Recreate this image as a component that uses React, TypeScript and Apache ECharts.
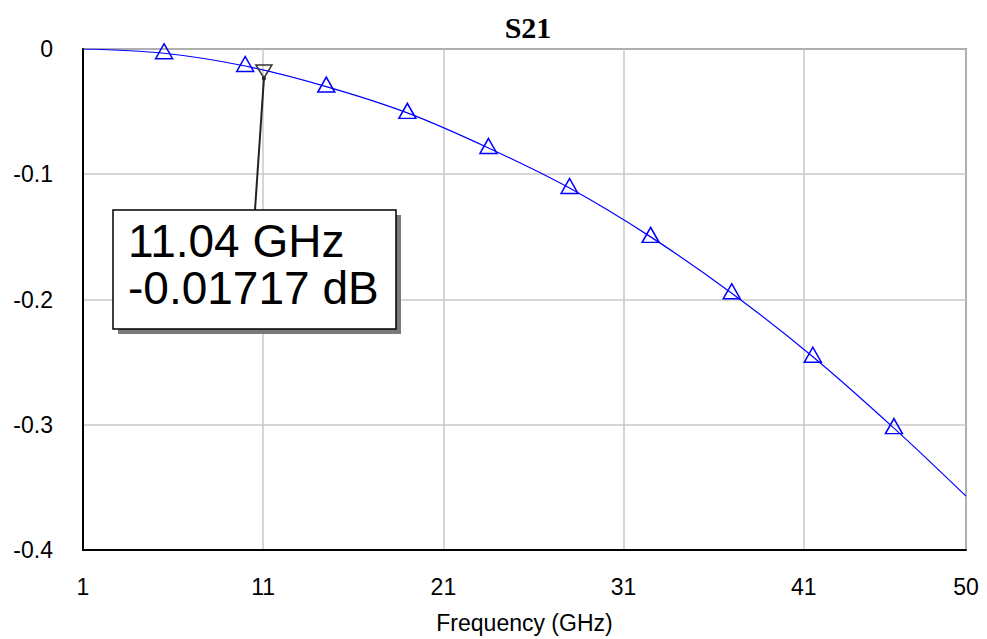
import React, { useEffect, useRef } from "react";
import * as echarts from "echarts";

const titleText = "S21";
const xAxisName = "Frequency (GHz)";
const xTickValues = [1, 11, 21, 31, 41, 50];
const freqGHz = [1, 5.5, 10, 14.5, 19, 23.5, 28, 32.5, 37, 41.5, 46, 50];
const s21dB = [0, -0.0034, -0.0136, -0.03, -0.051, -0.079, -0.111, -0.15, -0.195, -0.2457, -0.3027, -0.357];
const markerFreq = 11.04;
const markerValue = -0.01717;
const markerLines = ["11.04 GHz", "-0.01717 dB"];

const FONT = "'Liberation Sans', Arial, sans-serif";

export default function App() {
  const ref = useRef<HTMLDivElement>(null);

  useEffect(() => {
    if (!ref.current) return;
    const chart = echarts.init(ref.current, null, { renderer: "svg" });

    const seriesData = freqGHz.map((f, i) => ({
      value: [f, s21dB[i]],
      symbol: i === 0 || i === freqGHz.length - 1 ? "none" : "triangle",
    }));

    chart.setOption({
      animation: false,
      backgroundColor: "#ffffff",
      title: {
        text: titleText,
        left: 523,
        top: 7,
        textAlign: "center",
        textStyle: {
          fontFamily: "'Liberation Serif', 'Times New Roman', serif",
          fontWeight: "bold",
          fontSize: 30,
          color: "#000",
        },
      },
      grid: {
        left: 83,
        right: 21,
        top: 49,
        bottom: 88,
        show: true,
        borderColor: "#333",
        borderWidth: 1.5,
        backgroundColor: "#fff",
      },
      xAxis: {
        type: "value",
        min: 1,
        max: 50,
        name: xAxisName,
        nameLocation: "middle",
        nameGap: 61,
        nameTextStyle: { fontFamily: FONT, fontSize: 23, color: "#000" },
        axisLine: { show: true, onZero: false, lineStyle: { color: "#000", width: 2 } },
        axisTick: { show: false, customValues: xTickValues },
        axisLabel: {
          customValues: xTickValues,
          fontFamily: FONT,
          fontSize: 23,
          color: "#000",
          margin: 25,
          showMinLabel: true,
          showMaxLabel: true,
        },
        splitLine: { show: true, lineStyle: { color: "#c8c8c8", width: 1.5 } },
      },
      yAxis: {
        type: "value",
        min: -0.4,
        max: 0,
        interval: 0.1,
        axisLine: { show: true, onZero: false, lineStyle: { color: "#000", width: 2 } },
        axisTick: { show: false },
        axisLabel: {
          fontFamily: FONT,
          fontSize: 23,
          color: "#000",
          margin: 30,
          formatter: (v: number) => (Math.abs(v) < 1e-9 ? "0" : String(Math.round(v * 10) / 10)),
        },
        splitLine: { show: true, lineStyle: { color: "#c8c8c8", width: 1.5 } },
      },
      series: [
        {
          type: "line",
          data: seriesData,
          smooth: 0.35,
          symbolSize: [17, 15],
          symbolOffset: [0, -2],
          showAllSymbol: true,
          lineStyle: { color: "#0000ff", width: 1.2 },
          itemStyle: { color: "rgba(0,0,0,0)", borderColor: "#0000ff", borderWidth: 1.5 },
          z: 3,
          markPoint: {
            symbol: "triangle",
            symbolRotate: 180,
            symbolSize: [16, 13],
            symbolOffset: [0, 1],
            label: { show: false },
            itemStyle: { color: "rgba(0,0,0,0)", borderColor: "#333", borderWidth: 1.5 },
            data: [{ coord: [markerFreq, markerValue] }],
            z: 4,
          },
        },
      ],
    });

    const p = chart.convertToPixel({ gridIndex: 0 }, [markerFreq, markerValue]) as number[];
    const boxX = 113;
    const boxY = 210;
    const boxW = 283;
    const boxH = 119;

    chart.setOption({
      graphic: [
        {
          type: "line",
          shape: { x1: p[0], y1: p[1] + 8, x2: 255, y2: boxY },
          style: { stroke: "#222", lineWidth: 2 },
          z: 10,
        },
        {
          type: "circle",
          shape: { cx: p[0], cy: p[1] + 8, r: 2 },
          style: { fill: "#222" },
          z: 10,
        },
        {
          type: "rect",
          shape: { x: boxX + 5, y: boxY + 5, width: boxW, height: boxH },
          style: { fill: "#7a7a7a" },
          z: 10,
        },
        {
          type: "rect",
          shape: { x: boxX, y: boxY, width: boxW, height: boxH },
          style: { fill: "#fff", stroke: "#000", lineWidth: 1.5 },
          z: 11,
        },
        {
          type: "text",
          x: 128,
          y: 241,
          style: {
            text: markerLines[0],
            font: `46px ${FONT}`,
            fill: "#000",
            verticalAlign: "middle",
            align: "left",
          },
          z: 12,
        },
        {
          type: "text",
          x: 128,
          y: 288,
          style: {
            text: markerLines[1],
            font: `46px ${FONT}`,
            fill: "#000",
            verticalAlign: "middle",
            align: "left",
          },
          z: 12,
        },
      ],
    });

    return () => chart.dispose();
  }, []);

  return (
    <div
      ref={ref}
      style={{ position: "absolute", left: 0, top: 0, width: 987, height: 639 }}
    />
  );
}
